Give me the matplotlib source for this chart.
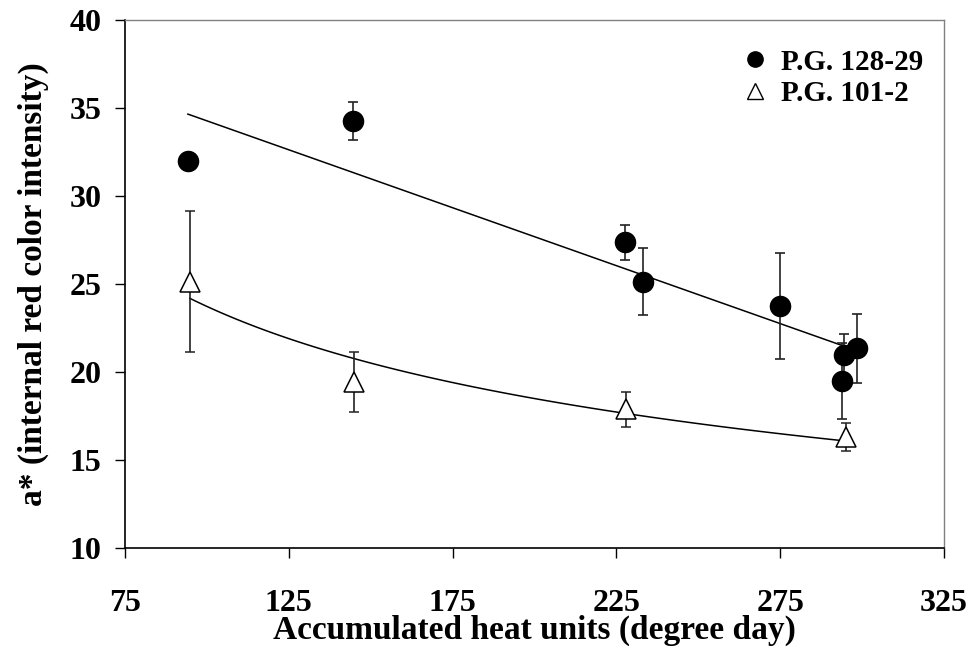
import numpy as np
import matplotlib
matplotlib.use("Agg")
import matplotlib.pyplot as plt
from matplotlib.lines import Line2D

# P.G. 128-29 (filled circles)
heat_a = [94.2, 144.6, 227.6, 233.2, 274.9, 294.5, 293.8, 298.4]
color_a = [32.0, 34.26, 27.37, 25.13, 23.77, 21.0, 19.49, 21.35]
err_a = [0.0, 1.08, 1.0, 1.9, 3.0, 1.16, 2.16, 1.95]

# P.G. 101-2 (open triangles)
heat_b = [94.8, 145.0, 227.9, 295.0]
color_b = [25.13, 19.45, 17.9, 16.32]
err_b = [4.0, 1.7, 1.0, 0.8]

x_ticks = [75, 125, 175, 225, 275, 325]
y_ticks = [10, 15, 20, 25, 30, 35, 40]

plt.rcParams["font.family"] = ["Liberation Serif", "DejaVu Serif"]
plt.rcParams["font.weight"] = "bold"

fig = plt.figure(figsize=(9.72, 6.49), dpi=100)
ax = fig.add_axes([125 / 972, 1 - 548.3 / 649, (944 - 125) / 972, (548.3 - 20) / 649])

# trendlines: linear for P.G. 128-29, power for P.G. 101-2
slope, intercept = np.polyfit(heat_a, color_a, 1)
xa = np.linspace(min(heat_a), max(heat_a), 100)
ax.plot(xa, intercept + slope * xa, color="black", lw=1.1, zorder=2)

b, ln_a = np.polyfit(np.log(heat_b), np.log(color_b), 1)
xb = np.linspace(min(heat_b), max(heat_b), 100)
ax.plot(xb, np.exp(ln_a) * xb ** b, color="black", lw=1.1, zorder=2)

ax.errorbar(heat_a, color_a, yerr=err_a, fmt="o", ms=14.5, mfc="black", mec="black",
            ecolor="#222222", elinewidth=1.2, capsize=3.4, capthick=1.2, zorder=3)
ax.errorbar(heat_b, color_b, yerr=err_b, fmt="^", ms=15, mfc="white", mec="black", mew=1.1,
            ecolor="#222222", elinewidth=1.2, capsize=3.4, capthick=1.2, zorder=3)

ax.set_xlim(75, 325)
ax.set_ylim(10, 40)
ax.set_xticks(x_ticks)
ax.set_yticks(y_ticks)
ax.tick_params(direction="out", length=7, width=1, labelsize=23)
ax.tick_params(axis="x", pad=22)
ax.tick_params(axis="y", pad=10)

for side in ["top", "right"]:
    ax.spines[side].set_color("#808080")
    ax.spines[side].set_linewidth(1)
for side in ["left", "bottom"]:
    ax.spines[side].set_linewidth(1.2)

ax.set_xlabel("Accumulated heat units (degree day)", fontsize=24, fontweight="bold", labelpad=-2)
ax.set_ylabel("a* (internal red color intensity)", fontsize=24, fontweight="bold", labelpad=15)

handles = [
    Line2D([], [], ls="none", marker="o", ms=11, mfc="black", mec="black"),
    Line2D([], [], ls="none", marker="^", ms=12, mfc="white", mec="black", mew=1),
]
ax.legend(handles, ["P.G. 128-29", "P.G. 101-2"], loc="upper right",
          bbox_to_anchor=(1.003, 0.99), frameon=False,
          prop={"size": 21, "weight": "bold"}, handletextpad=0.4, handlelength=1.0,
          labelspacing=0.15, borderpad=0.3)

fig.savefig("out.png", dpi=100)
